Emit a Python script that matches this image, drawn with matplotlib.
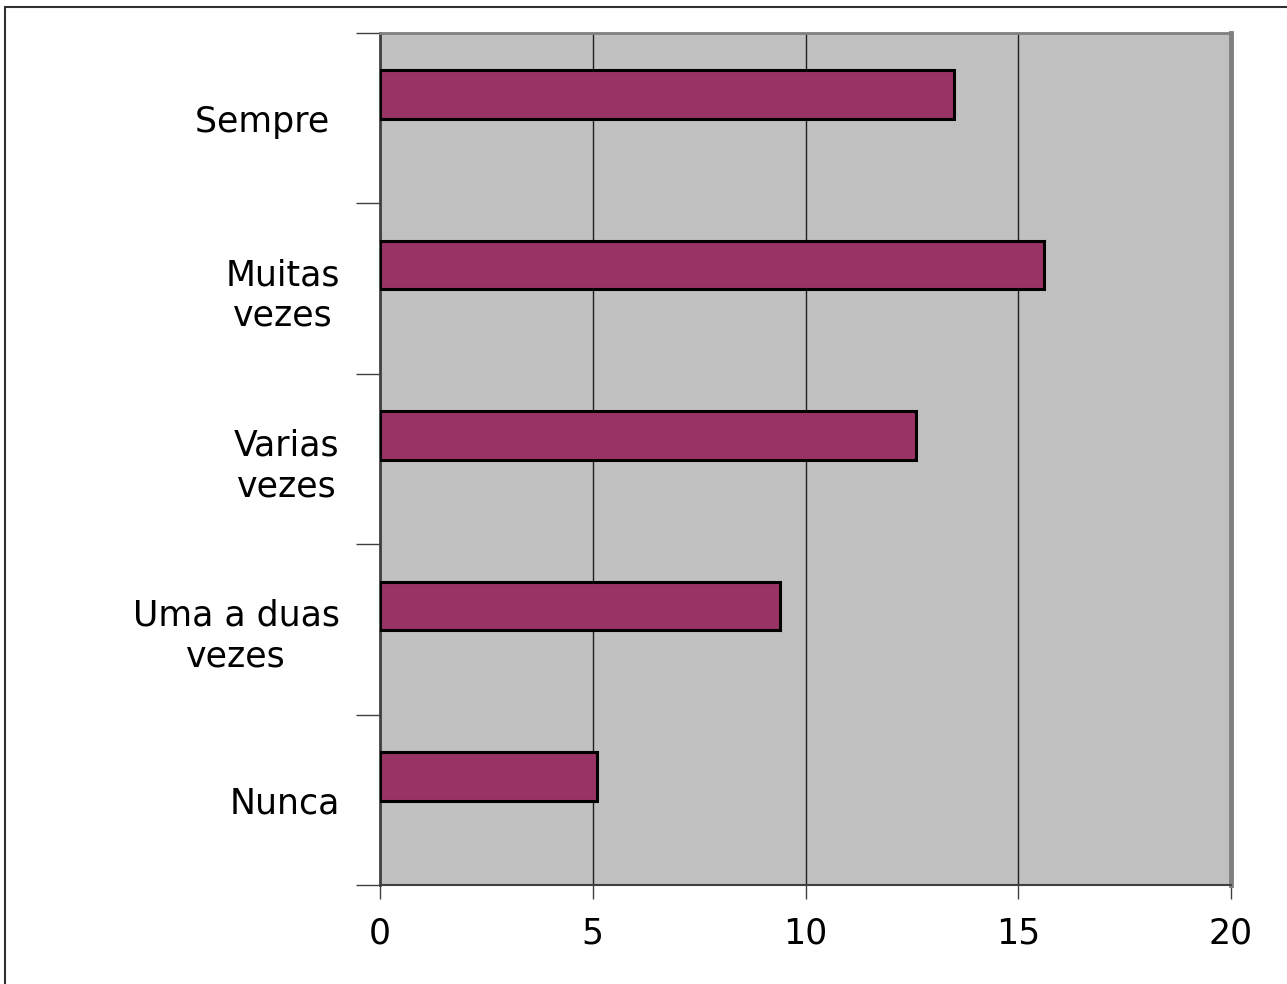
import matplotlib
matplotlib.use("Agg")
from matplotlib import pyplot as plt
from matplotlib.patches import Rectangle
import numpy as np

plt.rcParams['font.family'] = ['DejaVu Sans']

categories = ['Sempre ', 'Muitas\nvezes', 'Varias\nvezes', 'Uma a duas\nvezes', 'Nunca']
values = [13.5, 15.6, 12.6, 9.4, 5.1]
xticks = [0, 5, 10, 15, 20]

fig = plt.figure(figsize=(12.87, 9.84), dpi=100)
ax = fig.add_axes([0.2953, 0.1006, 0.9565 - 0.2953, 0.9665 - 0.1006])
ax.set_facecolor('#c0c0c0')

pos = np.arange(len(categories))
bar_h = 0.285
ax.barh(pos - 0.138, values, height=bar_h, color='#993366',
        edgecolor='black', linewidth=2.2, zorder=3)

ax.set_xlim(0, 20)
ax.set_ylim(len(categories) - 0.5, -0.5)

ax.set_xticks(xticks)
ax.set_xticklabels([str(t) for t in xticks], fontsize=25)
ax.tick_params(axis='x', length=10, width=1, color='#404040', pad=13)
ax.xaxis.grid(True, color='#202020', linewidth=1, zorder=1)
ax.set_axisbelow(True)

ax.set_yticks(np.arange(len(categories) + 1) - 0.5)
ax.set_yticklabels([])
ax.tick_params(axis='y', which='major', length=17, width=1, color='#404040')
ax.set_yticks(pos, minor=True)
ax.set_yticklabels(categories, minor=True, fontsize=25, linespacing=1.25,
                   multialignment='center')
ax.tick_params(axis='y', which='minor', length=0, pad=29)

ax.spines['left'].set_color('#404040')
ax.spines['left'].set_linewidth(2)
ax.spines['bottom'].set_color('#404040')
ax.spines['bottom'].set_linewidth(1.5)
ax.spines['top'].set_color('#808080')
ax.spines['top'].set_linewidth(2)
ax.spines['right'].set_color('#808080')
ax.spines['right'].set_linewidth(3.5)

# outer chart border
W, H = 1287, 984
fig.patches.append(Rectangle((5 / W, -0.05), 1.2, 1 - 7 / H + 0.05,
                             transform=fig.transFigure, fill=False,
                             edgecolor='#303030', linewidth=1.5))

fig.savefig('out.png', dpi=100)
